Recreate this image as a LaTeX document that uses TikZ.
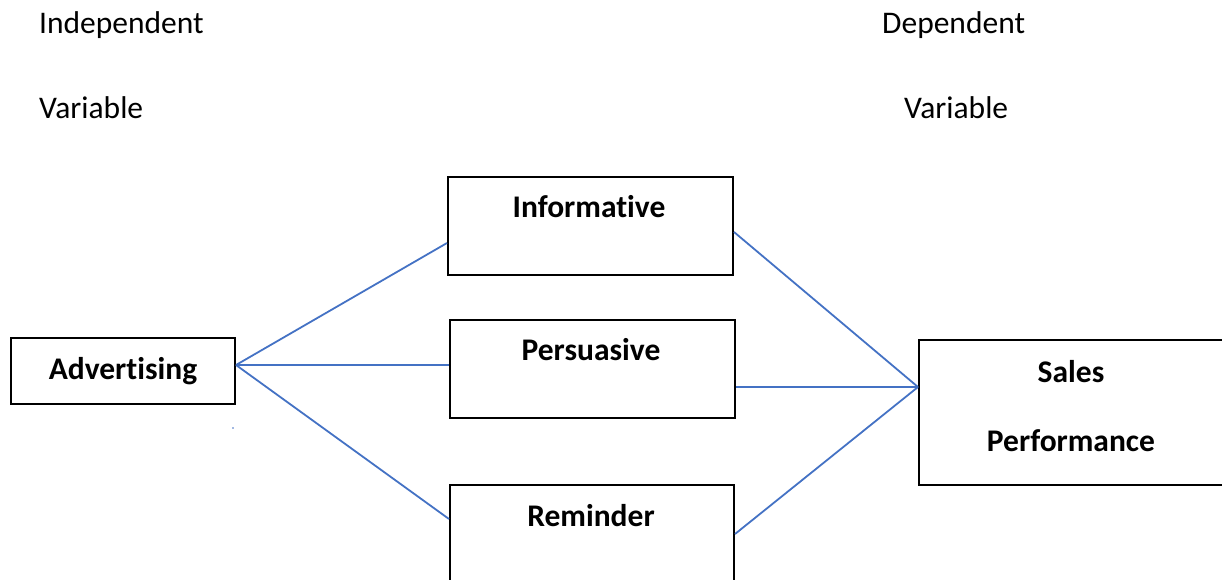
\documentclass[tikz,border=0pt]{standalone}
\usepackage{fontspec}
\setmainfont{Carlito}[Ligatures=NoCommon]

\definecolor{linkblue}{RGB}{68,114,196}

\tikzset{
  box/.style={draw=black, line width=2pt, rectangle, anchor=north west, inner sep=0pt},
  lbl/.style={anchor=base, inner sep=0pt, font=\fontsize{31.5}{36}\selectfont\bfseries},
  head/.style={anchor=base west, inner sep=0pt, font=\fontsize{31.5}{36}\selectfont},
  link/.style={draw=linkblue, line width=1.8pt}
}

\begin{document}
\begin{tikzpicture}[x=1pt,y=-1pt]

\useasboundingbox (0,0) rectangle (1222,579);

% column headings
\node[head] (indep) at (39,33) {Independent};
\node[head] (indvar) at (39,118) {Variable};
\node[head] (dep) at (882,33) {Dependent};
\node[head] (depvar) at (904,118) {Variable};

% boxes
\node[box, minimum width=224, minimum height=66] (adv) at (10,337) {};
\node[box, minimum width=285, minimum height=98] (inf) at (447,176) {};
\node[box, minimum width=285, minimum height=98] (per) at (449,319) {};
\node[box, minimum width=284, minimum height=98] (rem) at (449,484) {};
\node[box, minimum width=308, minimum height=145] (sal) at (918,339) {};

% labels
\node[lbl] (advt) at (123,379) {Advertising};
\node[lbl] (inft) at (589,217) {Informative};
\node[lbl] (pert) at (591,360) {Persuasive};
\node[lbl] (remt) at (591,526) {Reminder};
\node[lbl] (salt) at (1071,382) {Sales};
\node[lbl] (perf) at (1071,451) {Performance};

% connectors
\draw[link] ([yshift=6pt]adv.east) -- ([yshift=-17pt]inf.west);
\draw[link] ([yshift=6pt]adv.east) -- ([yshift=4pt]per.west);
\draw[link] ([yshift=6pt]adv.east) -- ([yshift=15pt]rem.west);

\draw[link] ([yshift=-6pt]inf.east) -- ([yshift=25.5pt]sal.west);
\draw[link] ([yshift=-18pt]per.east) -- ([yshift=25.5pt]sal.west);
\draw[link] (rem.east) -- ([yshift=25.5pt]sal.west);

% stray dot
\fill[linkblue] (233,428) circle (0.9pt);

\end{tikzpicture}
\end{document}
